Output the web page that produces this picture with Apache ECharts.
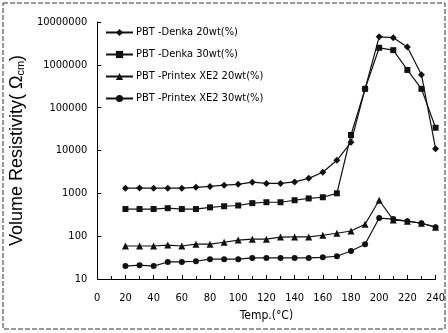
<!DOCTYPE html>
<html>
<head>
<meta charset="utf-8">
<script src="https://cdn.jsdelivr.net/npm/echarts@6/dist/echarts.min.js"></script>
<style>
  html, body { margin: 0; padding: 0; background: #fff; }
  #main { width: 448px; height: 333px; }
</style>
</head>
<body>
<div id="main"></div>
<script>
// temperature (°C), one point every 10 degrees
const temps = [20, 30, 40, 50, 60, 70, 80, 90, 100, 110, 120, 130, 140, 150, 160, 170, 180, 190, 200, 210, 220, 230, 240];

const seriesNames = [
  'PBT -Denka 20wt(%)',
  'PBT -Denka 30wt(%)',
  'PBT -Printex XE2 20wt(%)',
  'PBT -Printex XE2 30wt(%)'
];

// volume resistivity (ohm cm)
const denka20 = [1320, 1330, 1320, 1320, 1320, 1380, 1450, 1550, 1620, 1820, 1700, 1700, 1850, 2240, 3100, 5900, 15500, 275000, 4500000, 4300000, 2600000, 590000, 11000];
const denka30 = [430, 430, 430, 450, 430, 430, 470, 500, 520, 590, 620, 620, 690, 760, 810, 1000, 23000, 275000, 2500000, 2200000, 760000, 275000, 34000];
const printex20 = [59, 59, 59, 62, 59, 65, 65, 72, 81, 85, 85, 95, 96, 96, 105, 117, 132, 190, 690, 240, 224, 200, 162];
const printex30 = [20, 21, 20, 25, 25, 26, 29, 29, 29, 31, 31, 31, 31, 31, 32, 34, 45, 65, 265, 250, 224, 200, 162];

const yTicks = [10, 100, 1000, 10000, 100000, 1000000, 10000000];

const narrow = "'Liberation Sans Narrow', 'DejaVu Sans Condensed', sans-serif";
const symbols = ['diamond', 'rect', 'triangle', 'circle'];
const symbolSizes = [7, 6, 7, 6];
const allData = [denka20, denka30, printex20, printex30];

const chart = echarts.init(document.getElementById('main'), null, {renderer: 'canvas'});

const series = allData.map((vals, i) => {
  return {
    name: seriesNames[i],
    type: 'line',
    data: temps.map((t, k) => [t, vals[k]]),
    symbol: symbols[i],
    symbolSize: symbolSizes[i],
    lineStyle: {color: '#111', width: 1.2},
    itemStyle: {color: '#111'},
    emphasis: {disabled: true},
    animation: false
  };
});

const option = {
  animation: false,
  backgroundColor: '#fff',
  graphic: [{
    type: 'rect',
    shape: {x: 3, y: 3, width: 442, height: 326},
    style: {fill: 'none', stroke: '#333', lineWidth: 1, lineDash: [5, 2]},
    silent: true
  }],
  legend: {
    orient: 'vertical',
    left: 100,
    top: 22,
    itemWidth: 27,
    itemHeight: 9,
    itemGap: 11,
    textStyle: {fontFamily: narrow, fontSize: 11, color: '#000', padding: [0, 0, 0, -2]},
    data: seriesNames
  },
  grid: {left: 84, right: 12, top: 22, bottom: 54},
  xAxis: {
    type: 'value',
    min: 0,
    max: 240,
    interval: 20,
    name: 'Temp.(°C)',
    nameLocation: 'middle',
    nameGap: 31,
    nameTextStyle: {fontFamily: narrow, fontSize: 12, color: '#000'},
    axisLine: {lineStyle: {color: '#000', width: 1}},
    axisTick: {inside: true, length: 4, lineStyle: {color: '#000'}},
    minorTick: {show: true, splitNumber: 2, length: 3, lineStyle: {color: '#000'}},
    axisLabel: {fontFamily: narrow, fontSize: 11, color: '#000', margin: 14},
    splitLine: {show: false}
  },
  yAxis: {
    type: 'log',
    logBase: 10,
    min: yTicks[0],
    max: yTicks[yTicks.length - 1],
    name: 'Volume Resistivity( Ω{s|cm})',
    nameLocation: 'middle',
    nameGap: 51,
    nameTextStyle: {
      fontFamily: "'Liberation Sans', Arial, sans-serif",
      fontSize: 18,
      color: '#000',
      rich: {s: {fontSize: 11, verticalAlign: 'bottom', fontFamily: "'Liberation Sans', sans-serif"}}
    },
    axisLine: {show: true, lineStyle: {color: '#000', width: 1}},
    axisTick: {show: true, inside: true, length: 4, lineStyle: {color: '#000'}},
    axisLabel: {
      fontFamily: narrow,
      fontSize: 11,
      color: '#000',
      margin: 10,
      formatter: v => String(Math.round(v))
    },
    splitLine: {show: false}
  },
  series: series
};

chart.setOption(option);
</script>
</body>
</html>
